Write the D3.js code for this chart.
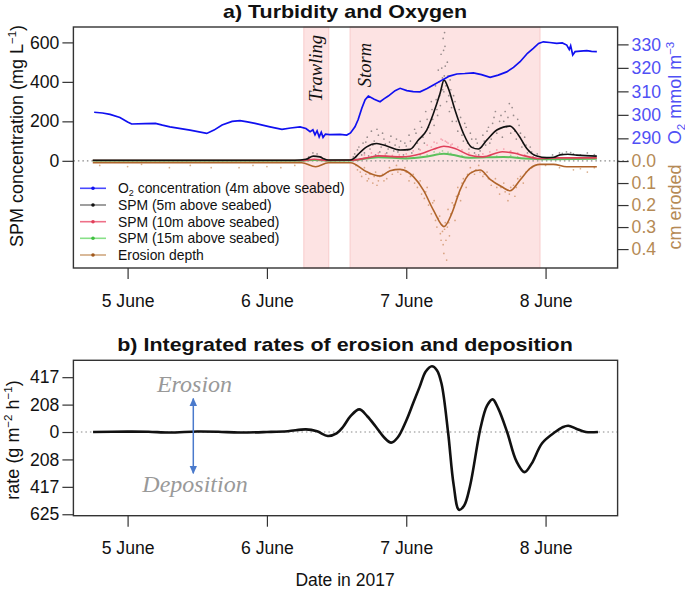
<!DOCTYPE html>
<html><head><meta charset="utf-8">
<script src="https://cdn.jsdelivr.net/npm/d3@7"></script>
<style>
body{margin:0;background:#fff;}
</style></head><body>
<svg id="c" width="685" height="590" font-family="Liberation Sans, Arial, sans-serif"></svg>
<script>
// ---------- data ----------
const dayTicks=[0,1,2,3];
const dayLabels=["5 June","6 June","7 June","8 June"];
const spmTicks=[0,200,400,600];
const o2Ticks=[290,300,310,320,330];
const eroTicks=[0,0.1,0.2,0.3,0.4];
const eroLabels=["0.0","0.1","0.2","0.3","0.4"];
const rateTicks=[416.7,208.3,0,-208.3,-416.7,-625];
const rateLabels=["417","208","0","208","417","625"];
const trawling=[1.265,1.444];
const storm=[1.597,2.96];

// O2 (mmol m-3), [day, value]
const o2=[[-0.24,301.1],[-0.18,300.8],[-0.126,300.2],[-0.055,298.9],[0.0,297],[0.029,296.1],[0.125,296.3],[0.2,296.4],[0.25,295.6],[0.304,294.9],[0.448,293.5],[0.568,292.1],[0.62,293.5],[0.678,295.7],[0.75,297.2],[0.807,297.5],[0.86,297],[0.915,296.4],[1.022,294.9],[1.108,293.8],[1.17,294.4],[1.238,294.9],[1.28,294.2],[1.31,292.8],[1.33,293.6],[1.345,291.5],[1.36,293.2],[1.375,290.6],[1.39,292.6],[1.403,290.4],[1.42,291.8],[1.45,291.6],[1.525,291.7],[1.573,291.4],[1.6,292.3],[1.632,294.9],[1.655,298],[1.681,302.8],[1.705,306.5],[1.728,308],[1.77,306.6],[1.812,305.6],[1.84,306.8],[1.871,308],[1.92,310.3],[1.956,311.3],[2.004,310.3],[2.05,309.9],[2.099,309.8],[2.15,311.2],[2.195,312.7],[2.266,315.1],[2.31,316.5],[2.363,317.4],[2.42,317.6],[2.482,317.9],[2.54,317.1],[2.602,316],[2.66,316.9],[2.721,318.3],[2.77,320.2],[2.817,322.6],[2.87,326.2],[2.912,328.3],[2.95,330.4],[2.984,331.1],[3.03,330.8],[3.08,330.4],[3.12,330.6],[3.152,329.7],[3.17,327.8],[3.18,329.4],[3.195,325.5],[3.212,326.9],[3.25,327.1],[3.296,327.3],[3.33,327],[3.368,326.9]];

// SPM 5m (mg/L) smoothed
const spm5=[[-0.25,3],[0.5,3],[1.2,3],[1.28,8],[1.333,24],[1.38,20],[1.403,12],[1.44,4],[1.597,4],[1.63,15],[1.656,34],[1.716,71],[1.788,88],[1.86,75],[1.956,55],[2.027,58],[2.087,105],[2.147,156],[2.195,240],[2.243,342],[2.271,409],[2.302,367],[2.35,257],[2.41,139],[2.47,68],[2.518,60],[2.578,105],[2.65,156],[2.745,176],[2.805,131],[2.865,63],[2.937,24],[3.009,16],[3.06,18],[3.104,30],[3.16,33],[3.224,29],[3.368,24]];
// SPM 10m
const spm10=[[-0.25,2],[1.25,2],[1.34,8],[1.44,2],[1.6,3],[1.72,15],[1.8,25],[1.96,20],[2.1,35],[2.2,60],[2.27,74],[2.35,62],[2.45,30],[2.55,20],[2.69,46],[2.78,38],[2.85,25],[2.95,12],[3.1,15],[3.368,15]];
// SPM 15m
const spm15=[[-0.25,1],[1.25,1],[1.34,4],[1.44,1],[1.6,2],[1.8,18],[2.0,12],[2.15,22],[2.27,36],[2.35,28],[2.45,15],[2.7,20],[2.85,12],[3.0,8],[3.368,10]];
// Erosion depth (cm)
const erosion=[[-0.25,0.008],[1.25,0.008],[1.35,0.026],[1.44,0.008],[1.6,0.008],[1.716,0.049],[1.812,0.068],[1.884,0.044],[1.956,0.038],[2.051,0.071],[2.123,0.132],[2.195,0.223],[2.271,0.298],[2.327,0.238],[2.386,0.132],[2.458,0.056],[2.53,0.041],[2.602,0.083],[2.686,0.117],[2.745,0.135],[2.817,0.086],[2.889,0.033],[2.96,0.015],[3.056,0.015],[3.152,0.026],[3.368,0.026]];

// raw scatter (hand-read)
const spm5raw=[[1.30,20],[1.33,40],[1.36,35],[1.39,18],[1.62,20],[1.65,55],[1.67,10],[1.69,90],[1.70,40],[1.72,120],[1.74,60],[1.75,150],[1.77,100],[1.78,30],[1.80,130],[1.82,70],[1.84,110],[1.86,40],[1.88,95],[1.90,20],[1.92,80],[1.94,45],[1.96,100],[1.98,30],[2.00,75],[2.02,130],[2.04,40],[2.06,160],[2.08,90],[2.10,200],[2.12,120],[2.14,250],[2.16,170],[2.18,300],[2.19,210],[2.21,380],[2.22,260],[2.23,460],[2.24,330],[2.25,540],[2.26,420],[2.265,620],[2.27,350],[2.275,650],[2.28,480],[2.29,300],[2.30,430],[2.31,250],[2.32,360],[2.33,200],[2.35,300],[2.37,150],[2.39,220],[2.41,100],[2.43,170],[2.45,60],[2.47,110],[2.49,40],[2.51,90],[2.53,50],[2.55,130],[2.57,80],[2.59,170],[2.61,110],[2.63,220],[2.65,140],[2.67,200],[2.69,120],[2.71,250],[2.72,170],[2.74,290],[2.75,140],[2.77,230],[2.79,110],[2.81,180],[2.83,70],[2.85,120],[2.87,40],[2.89,70],[2.91,20],[2.94,35],[3.1,40],[3.15,45],[3.2,35],[3.3,40],
[1.63,35],[1.64,8],[1.66,70],[1.68,30],[1.71,95],[1.73,25],[1.76,80],[1.79,160],[1.81,45],[1.83,140],[1.85,85],[1.87,60],[1.89,125],[1.91,50],[1.93,110],[1.95,70],[1.97,20],[1.99,90],[2.01,55],[2.03,100],[2.05,70],[2.07,140],[2.09,60],[2.11,170],[2.13,90],[2.15,210],[2.17,140],[2.185,260],[2.2,180],[2.215,310],[2.225,230],[2.235,400],[2.245,280],[2.255,470],[2.262,360],[2.268,560],[2.273,430],[2.278,580],[2.285,380],[2.295,500],[2.305,330],[2.315,410],[2.325,270],[2.34,330],[2.36,200],[2.38,260],[2.40,130],[2.42,190],[2.44,90],[2.46,140],[2.48,70],[2.50,110],[2.52,30],[2.54,70],[2.56,100],[2.58,150],[2.60,90],[2.62,190],[2.64,250],[2.66,160],[2.68,230],[2.70,200],[2.73,220],[2.76,270],[2.78,150],[2.80,210],[2.82,140],[2.84,90],[2.86,80],[2.88,50],[2.90,45],[2.92,30],[3.05,30],[3.12,38],[3.18,42],[3.25,30],[3.35,32]];
const spm10raw=[[1.75,40],[1.85,35],[1.95,30],[2.05,50],[2.15,80],[2.2,95],[2.25,110],[2.28,100],[2.3,90],[2.33,85],[2.4,55],[2.5,30],[2.6,45],[2.7,60],[2.8,40],
[1.7,30],[1.8,40],[1.9,28],[2.0,35],[2.1,55],[2.18,70],[2.22,90],[2.26,105],[2.29,95],[2.32,80],[2.37,70],[2.45,40],[2.55,35],[2.65,55],[2.75,50],[2.85,30]];
const spm15raw=[[1.8,28],[1.9,22],[2.1,30],[2.2,45],[2.26,50],[2.3,44],[2.4,25],[2.6,25],[2.75,28],
[1.75,22],[1.85,25],[2.0,18],[2.15,30],[2.24,42],[2.32,38],[2.5,18],[2.65,24],[2.8,20]];
const eroraw=[[0.3,0.03],[0.8,0.03],[1.1,0.03],[1.65,0.04],[1.68,0.07],[1.70,0.03],[1.72,0.09],[1.74,0.06],[1.76,0.10],[1.78,0.05],[1.80,0.09],[1.83,0.06],[1.86,0.08],[1.88,0.03],[1.90,0.06],[1.93,0.02],[1.96,0.06],[1.99,0.03],[2.02,0.09],[2.05,0.06],[2.08,0.12],[2.10,0.09],[2.13,0.17],[2.15,0.12],[2.18,0.24],[2.20,0.18],[2.22,0.30],[2.24,0.25],[2.25,0.36],[2.26,0.32],[2.27,0.42],[2.28,0.28],[2.29,0.45],[2.30,0.22],[2.31,0.34],[2.33,0.19],[2.35,0.27],[2.37,0.12],[2.39,0.18],[2.41,0.08],[2.43,0.12],[2.46,0.03],[2.49,0.06],[2.52,0.02],[2.55,0.07],[2.58,0.05],[2.61,0.11],[2.64,0.08],[2.67,0.15],[2.70,0.10],[2.73,0.18],[2.75,0.12],[2.78,0.16],[2.80,0.08],[2.84,0.10],[2.88,0.04],[3.2,0.04],[3.3,0.05],
[1.64,0.02],[1.67,0.05],[1.71,0.06],[1.73,0.08],[1.77,0.07],[1.79,0.11],[1.81,0.07],[1.84,0.09],[1.87,0.05],[1.91,0.04],[1.94,0.05],[1.97,0.04],[2.0,0.05],[2.03,0.07],[2.06,0.10],[2.09,0.10],[2.11,0.15],[2.14,0.14],[2.16,0.2],[2.19,0.19],[2.21,0.27],[2.23,0.26],[2.245,0.33],[2.255,0.29],[2.265,0.38],[2.275,0.31],[2.285,0.36],[2.295,0.3],[2.305,0.28],[2.32,0.24],[2.34,0.2],[2.36,0.16],[2.38,0.15],[2.40,0.1],[2.42,0.09],[2.44,0.06],[2.47,0.05],[2.50,0.04],[2.53,0.05],[2.56,0.06],[2.59,0.08],[2.62,0.09],[2.65,0.12],[2.68,0.12],[2.71,0.14],[2.74,0.15],[2.77,0.11],[2.79,0.12],[2.82,0.07],[2.86,0.05],[2.9,0.03],
[-0.2,0.02],[0.0,0.025],[0.1,0.015],[0.45,0.02],[0.6,0.03],[0.9,0.02],[1.0,0.025],[1.2,0.02],[3.0,0.02],[3.1,0.03],[3.25,0.035],[3.35,0.03]];

// Integrated rate (g m-2 h-1)
const rate=[[-0.248,0],[0.0,3],[0.15,2],[0.3,-4],[0.5,4],[0.65,2],[0.8,-4],[1.0,0],[1.15,6],[1.28,20],[1.36,5],[1.437,-30],[1.5,-10],[1.547,40],[1.6,120],[1.663,172],[1.72,120],[1.782,40],[1.84,-40],[1.892,-81],[1.94,-40],[2.002,91],[2.05,220],[2.096,343],[2.14,460],[2.184,500],[2.22,470],[2.253,369],[2.3,0],[2.34,-400],[2.378,-591],[2.415,-560],[2.457,-414],[2.535,40],[2.58,200],[2.62,248],[2.66,180],[2.724,0],[2.79,-220],[2.849,-305],[2.9,-240],[2.975,-85],[3.069,0],[3.12,35],[3.163,48],[3.22,25],[3.289,0],[3.376,0]];

// ---------- drawing ----------
const svg=d3.select("#c");
const SANS="Liberation Sans, Arial, sans-serif", SERIF="Liberation Serif, Times New Roman, serif";
const L=73.4, R=617.6;
const x=d3.scaleLinear().domain([-0.389,3.517]).range([L,R]);
const T1=27, B1=268;
const ySpm=d3.scaleLinear().domain([-543,678]).range([B1,T1]);
const yO2=d3.scaleLinear().domain([234.8,337.4]).range([B1,T1]);
const yEro=d3.scaleLinear().domain([-0.609,0.486]).range([T1,B1]);
const T2=360.3, B2=515.7;
const yRate=d3.scaleLinear().domain([-636,545]).range([B2,T2]);

const colBlue="#1010f0", colBlack="#111", colRed="#e0405a", colGreen="#5cc05c", colBrown="#b0642a";
const TICKFS=17.6;

function title(txt,y){
  svg.append("text").attr("transform",`translate(345,${y}) scale(1.13,1)`).attr("text-anchor","middle")
    .attr("font-size",19).attr("font-weight","bold").attr("fill","#111").text(txt);
}

// ---- panel a ----
title("a) Turbidity and Oxygen",18.3);

const g1=svg.append("g");
[trawling,storm].forEach(r=>{
  g1.append("rect").attr("x",x(r[0])).attr("y",T1).attr("width",x(r[1])-x(r[0])).attr("height",B1-T1)
    .attr("fill","#fde3e3").attr("stroke","#f8cccc").attr("stroke-width",1);
});
g1.append("text").attr("transform",`translate(${x((trawling[0]+trawling[1])/2)+6},${35}) rotate(-90)`)
  .attr("text-anchor","end").attr("font-family",SERIF).attr("font-style","italic")
  .attr("font-size",18.5).attr("fill","#111").text("Trawling");
g1.append("text").attr("transform",`translate(${x(storm[0])+21},${43}) rotate(-90)`)
  .attr("text-anchor","end").attr("font-family",SERIF).attr("font-style","italic")
  .attr("font-size",18.5).attr("fill","#111").text("Storm");

// zero dotted line
g1.append("line").attr("x1",L).attr("x2",R+12).attr("y1",ySpm(0)).attr("y2",ySpm(0))
  .attr("stroke","#888").attr("stroke-width",1.2).attr("stroke-dasharray","1.5,3");

const dots=(data,ys,col,op)=>g1.append("g").selectAll("circle").data(data).join("circle")
  .attr("cx",d=>x(d[0])).attr("cy",d=>ys(d[1])).attr("r",0.85).attr("fill",col).attr("opacity",op);
dots(eroraw,yEro,"#c07840",0.6);
dots(spm5raw,ySpm,"#444",0.55);
dots(spm10raw,ySpm,"#ee6680",0.55);
dots(spm15raw,ySpm,"#6acc6a",0.6);

const line=(data,ys,col,w,curve)=>g1.append("path").datum(data)
  .attr("d",d3.line().x(d=>x(d[0])).y(d=>ys(d[1])).curve(curve||d3.curveMonotoneX))
  .attr("fill","none").attr("stroke",col).attr("stroke-width",w);
line(erosion,yEro,colBrown,1.6);
line(spm15,ySpm,colGreen,2);
line(spm10,ySpm,colRed,1.6);
line(spm5,ySpm,colBlack,1.6);
line(o2,yO2,colBlue,1.7,d3.curveLinear);

// box
svg.append("rect").attr("x",L).attr("y",T1).attr("width",R-L).attr("height",B1-T1)
  .attr("fill","none").attr("stroke","#333").attr("stroke-width",1.4);

function styleAxis(g,color){
  g.select(".domain").remove();
  g.attr("font-family",SANS).attr("font-size",TICKFS);
  g.selectAll(".tick line").attr("stroke","#333").attr("stroke-width",1.2);
  g.selectAll(".tick text").attr("fill",color||"#111");
}
const axL=svg.append("g").attr("transform",`translate(${L},0)`)
  .call(d3.axisLeft(ySpm).tickValues(spmTicks).tickSize(11).tickPadding(3).tickFormat(d3.format("d")));
styleAxis(axL);
const axO=svg.append("g").attr("transform",`translate(${R},0)`)
  .call(d3.axisRight(yO2).tickValues(o2Ticks).tickSize(11).tickPadding(3).tickFormat(d3.format("d")));
styleAxis(axO,"#5050f5");
const axE=svg.append("g").attr("transform",`translate(${R},0)`)
  .call(d3.axisRight(yEro).tickValues(eroTicks).tickSize(11).tickPadding(3).tickFormat((d,i)=>eroLabels[i]));
styleAxis(axE,"#b58a55");
const axB1=svg.append("g").attr("transform",`translate(0,${B1})`)
  .call(d3.axisBottom(x).tickValues(dayTicks).tickSize(11).tickPadding(16).tickFormat((d,i)=>dayLabels[i]));
styleAxis(axB1);

// axis titles
const lt=svg.append("text").attr("transform","translate(22.5,136) rotate(-90)").attr("text-anchor","middle").attr("font-size",18).attr("fill","#111");
lt.append("tspan").text("SPM concentration (mg L");
lt.append("tspan").attr("dy",-7).attr("font-size",11.5).text("−1");
lt.append("tspan").attr("dy",7).text(")");
const rt=svg.append("text").attr("transform","translate(680.5,93) rotate(-90)").attr("text-anchor","middle").attr("font-size",18).attr("fill","#5050f5");
rt.append("tspan").text("O");
rt.append("tspan").attr("dy",4).attr("font-size",11.5).text("2");
rt.append("tspan").attr("dy",-4).text(" mmol m");
rt.append("tspan").attr("dy",-7).attr("font-size",11.5).text("−3");
svg.append("text").attr("transform","translate(680.5,207) rotate(-90)").attr("text-anchor","middle").attr("font-size",18).attr("fill","#b58a55").text("cm eroded");

// legend
const legItems=[
  {lab:["O","2"," concentration (4m above seabed)"],line:"#4848ff",dot:"#1010f0"},
  {lab:["SPM (5m above seabed)"],line:"#888",dot:"#111"},
  {lab:["SPM (10m above seabed)"],line:"#ee7088",dot:"#e0405a"},
  {lab:["SPM (15m above seabed)"],line:"#88e088",dot:"#40c040"},
  {lab:["Erosion depth"],line:"#d0a880",dot:"#a0581c"}];
const legY=[188.3,205,221.7,238.3,255];
legItems.forEach((it,i)=>{
  const y=legY[i];
  svg.append("line").attr("x1",80).attr("x2",106).attr("y1",y).attr("y2",y).attr("stroke",it.line).attr("stroke-width",1.6);
  svg.append("circle").attr("cx",93).attr("cy",y).attr("r",1.8).attr("fill",it.dot);
  const t=svg.append("text").attr("x",118).attr("y",y+5).attr("font-size",13.9).attr("fill","#111");
  if(it.lab.length===3){
    t.append("tspan").text(it.lab[0]);
    t.append("tspan").attr("dy",3).attr("font-size",9).text(it.lab[1]);
    t.append("tspan").attr("dy",-3).text(it.lab[2]);
  } else t.text(it.lab[0]);
});

// ---- panel b ----
title("b) Integrated rates of erosion and deposition",351);

const g2=svg.append("g");
g2.append("line").attr("x1",L+3).attr("x2",R).attr("y1",yRate(0)).attr("y2",yRate(0))
  .attr("stroke","#888").attr("stroke-width",1.2).attr("stroke-dasharray","1.5,3");
g2.append("path").datum(rate)
  .attr("d",d3.line().x(d=>x(d[0])).y(d=>yRate(d[1])).curve(d3.curveCatmullRom.alpha(0.5)))
  .attr("fill","none").attr("stroke","#111").attr("stroke-width",2.6);

// arrow
const defs=svg.append("defs");
defs.append("marker").attr("id","ah").attr("viewBox","0 0 10 10").attr("refX",9).attr("refY",5)
  .attr("markerWidth",5.5).attr("markerHeight",5.5).attr("orient","auto-start-reverse")
  .append("path").attr("d","M0,0.5 L10,5 L0,9.5 Z").attr("fill","#4a7acc");
g2.append("line").attr("x1",193.3).attr("x2",193.3).attr("y1",398.5).attr("y2",473.3)
  .attr("stroke","#4a7acc").attr("stroke-width",1.5)
  .attr("marker-start","url(#ah)").attr("marker-end","url(#ah)");
g2.append("text").attr("x",194.5).attr("y",391.7).attr("text-anchor","middle").attr("font-family",SERIF)
  .attr("font-style","italic").attr("font-size",24).attr("fill","#999").text("Erosion");
g2.append("text").attr("x",195).attr("y",491.7).attr("text-anchor","middle").attr("font-family",SERIF)
  .attr("font-style","italic").attr("font-size",24).attr("fill","#999").text("Deposition");

svg.append("rect").attr("x",L).attr("y",T2).attr("width",R-L).attr("height",B2-T2)
  .attr("fill","none").attr("stroke","#333").attr("stroke-width",1.4);

const axL2=svg.append("g").attr("transform",`translate(${L},0)`)
  .call(d3.axisLeft(yRate).tickValues(rateTicks).tickSize(11).tickPadding(3).tickFormat((d,i)=>rateLabels[i]));
styleAxis(axL2);
const axB2=svg.append("g").attr("transform",`translate(0,${B2})`)
  .call(d3.axisBottom(x).tickValues(dayTicks).tickSize(11).tickPadding(15).tickFormat((d,i)=>dayLabels[i]));
styleAxis(axB2);

const rl=svg.append("text").attr("transform","translate(18.5,440) rotate(-90)").attr("text-anchor","middle").attr("font-size",18).attr("fill","#111");
rl.append("tspan").text("rate (g m");
rl.append("tspan").attr("dy",-7).attr("font-size",11.5).text("−2");
rl.append("tspan").attr("dy",7).text(" h");
rl.append("tspan").attr("dy",-7).attr("font-size",11.5).text("−1");
rl.append("tspan").attr("dy",7).text(")");

svg.append("text").attr("x",345).attr("y",586).attr("text-anchor","middle").attr("font-size",17.5).attr("fill","#111").text("Date in 2017");
</script>
</body></html>
